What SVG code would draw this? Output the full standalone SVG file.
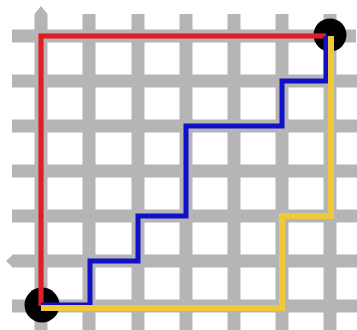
<svg xmlns="http://www.w3.org/2000/svg" width="357" height="330" viewBox="0 0 357 330">
<style>
.g{stroke:#b5b5b5;stroke-width:13;fill:none}
.p{fill:none;stroke-width:5;stroke-linejoin:miter;stroke-linecap:butt}
.red{stroke:#e01e24}
.blue{stroke:#1010c8}
.yel{stroke:#efc93a;stroke-width:6}
.dot{fill:#000}
</style>
<rect width="357" height="330" fill="#fff"/>
<g id="grid">
<path class="g" d="M41,14V330M89,14V330M138,14V330M186,14V330M234,14V330M282,14V330M330,14V330"/>
<path class="g" d="M12,36H356M12,81H357M12,126H357M12,171H357M12,216H357M12,261H357M12,306H357"/>
<polygon points="34.5,14 41,6 47.5,14" fill="#b5b5b5"/>
<polygon points="13,254.5 6,261 13,267.5" fill="#b5b5b5"/>
</g>
<g id="start"><circle class="dot" cx="42" cy="305" r="17.5"/></g>
<g id="end"><circle class="dot" cx="330" cy="35" r="16.5"/></g>
<g id="connectors">
<path class="p red" d="M41,306V36H326" stroke-opacity="0.35" stroke-width="8"/>
<path class="p red" d="M41,306V36H326"/>
<path class="p blue" d="M41,305H90V261H138V216H186V126H282V81H326V36"/>
<path class="p yel" d="M41,308H282V216H331V36"/>
</g>
</svg>
